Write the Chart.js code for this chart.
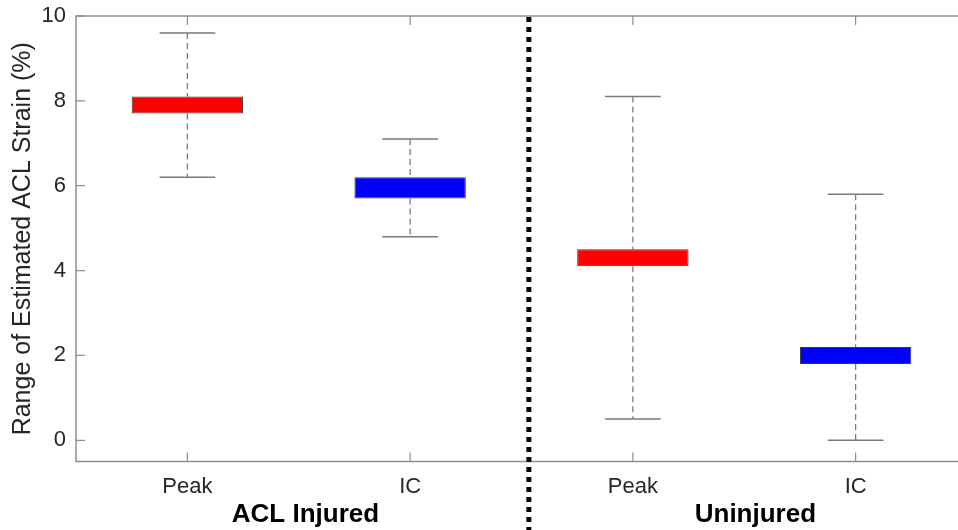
<!DOCTYPE html>
<html>
<head>
<meta charset="utf-8">
<script src="https://cdn.jsdelivr.net/npm/chart.js@4.4.1/dist/chart.umd.min.js"></script>
<style>
  html, body { margin: 0; padding: 0; background: #fff; overflow: hidden; }
  #wrap { width: 980px; height: 530px; }
</style>
</head>
<body>
<div id="wrap"><canvas id="c" width="980" height="530"></canvas></div>
<script>
// Box-plot summary per condition: whisker ends and box (quartile) edges, in % strain
const categories = ['Peak', 'IC', 'Peak', 'IC'];
const boxColors  = ['#ff0000', '#0000ff', '#ff0000', '#0000ff'];
const whiskerMin = [6.2, 4.8, 0.5, 0.0];
const boxLow     = [7.7, 5.7, 4.1, 1.8];
const boxHigh    = [8.1, 6.2, 4.5, 2.2];
const whiskerMax = [9.6, 7.1, 8.1, 5.8];

const groupNames = ['ACL Injured', 'Uninjured'];
const groupAt    = [1.53, 3.55];
const dividerAt  = 2.533;
const yTicks     = [0, 2, 4, 6, 8, 10];

const positions = categories.map((_, i) => i + 1);
const CAP = 0.125;

// Dashed whisker stems: max -> top of box, bottom of box -> min
const stems = [];
positions.forEach((p, i) => {
  stems.push({x: p, y: whiskerMax[i]}, {x: p, y: boxHigh[i]}, {x: p, y: null});
  stems.push({x: p, y: boxLow[i]}, {x: p, y: whiskerMin[i]}, {x: p, y: null});
});
// Solid caps at the whisker ends
const caps = [];
positions.forEach((p, i) => {
  caps.push({x: p - CAP, y: whiskerMax[i]}, {x: p + CAP, y: whiskerMax[i]}, {x: p + CAP, y: null});
  caps.push({x: p - CAP, y: whiskerMin[i]}, {x: p + CAP, y: whiskerMin[i]}, {x: p + CAP, y: null});
});

const FONT = '"Liberation Sans", Arial, sans-serif';
const AXIS_GRAY = '#8e8e8e';
const TICK_LEN = 9;

// keep the plot frame where the layout padding puts it
function noLabelPadding(s) {
  s.paddingTop = 0; s.paddingBottom = 0; s.paddingLeft = 0; s.paddingRight = 0;
}

const framePlugin = {
  id: 'frame',
  beforeDatasetsDraw(chart) {
    const {ctx, chartArea: a, scales: {x, y}} = chart;
    ctx.save();
    ctx.strokeStyle = AXIS_GRAY;
    ctx.lineWidth = 1.5;
    ctx.strokeRect(a.left, a.top, a.right - a.left, a.bottom - a.top);
    ctx.beginPath();
    y.ticks.forEach(t => {
      const py = y.getPixelForValue(t.value);
      ctx.moveTo(a.left, py); ctx.lineTo(a.left + TICK_LEN, py);
      ctx.moveTo(a.right, py); ctx.lineTo(a.right - TICK_LEN, py);
    });
    x.ticks.forEach(t => {
      const px = x.getPixelForValue(t.value);
      ctx.moveTo(px, a.bottom); ctx.lineTo(px, a.bottom - TICK_LEN);
      ctx.moveTo(px, a.top); ctx.lineTo(px, a.top + TICK_LEN);
    });
    ctx.lineWidth = 1.2;
    ctx.stroke();
    ctx.restore();
  },
  afterDraw(chart) {
    const {ctx, chartArea: a, scales: {x}} = chart;
    ctx.save();
    // dotted divider between the two groups
    const dx = x.getPixelForValue(dividerAt);
    ctx.strokeStyle = '#000';
    ctx.lineWidth = 5;
    ctx.setLineDash([5, 5]);
    ctx.beginPath();
    ctx.moveTo(dx, a.top + 1);
    ctx.lineTo(dx, chart.height);
    ctx.stroke();
    ctx.setLineDash([]);
    // group names under the tick labels
    ctx.fillStyle = '#000';
    ctx.font = 'bold 26px ' + FONT;
    ctx.textAlign = 'center';
    ctx.textBaseline = 'middle';
    groupNames.forEach((g, i) => {
      ctx.fillText(g, x.getPixelForValue(groupAt[i]), 515);
    });
    ctx.restore();
  }
};

new Chart(document.getElementById('c'), {
  type: 'bar',
  data: {
    datasets: [
      {
        type: 'bar',
        order: 0,
        data: positions.map((p, i) => ({x: p, y: [boxLow[i], boxHigh[i]]})),
        backgroundColor: boxColors,
        borderColor: '#3a3a3a',
        borderWidth: 1,
        borderSkipped: false,
        categoryPercentage: 1,
        barPercentage: 0.5
      },
      {
        type: 'line',
        order: 1,
        data: stems,
        borderColor: '#7a7a7a',
        borderWidth: 1.3,
        borderDash: [6, 4],
        pointRadius: 0,
        spanGaps: false
      },
      {
        type: 'line',
        order: 2,
        data: caps,
        borderColor: '#7a7a7a',
        borderWidth: 1.5,
        pointRadius: 0,
        spanGaps: false
      }
    ]
  },
  options: {
    responsive: false,
    animation: false,
    devicePixelRatio: 1,
    layout: { autoPadding: false, padding: { top: 16, right: 13, bottom: 0, left: 0 } },
    plugins: { legend: { display: false }, tooltip: { enabled: false } },
    scales: {
      x: {
        type: 'linear',
        min: 0.5,
        max: 4.5,
        offset: false,
        grid: { display: false, drawTicks: false },
        border: { display: false },
        afterBuildTicks: s => { s.ticks = positions.map(v => ({value: v})); },
        afterFit: s => { s.height = 68.5; noLabelPadding(s); },
        ticks: {
          autoSkip: false,
          maxRotation: 0,
          padding: 12,
          color: '#262626',
          font: { family: FONT, size: 22 },
          callback: (v, i) => categories[i]
        }
      },
      y: {
        type: 'linear',
        min: -0.5,
        max: 10,
        grid: { display: false, drawTicks: false },
        border: { display: false },
        afterBuildTicks: s => { s.ticks = yTicks.map(v => ({value: v})); },
        afterFit: s => { s.width = 76; noLabelPadding(s); },
        ticks: {
          padding: 10,
          color: '#262626',
          font: { family: FONT, size: 22 }
        },
        title: {
          display: true,
          text: 'Range of Estimated ACL Strain (%)',
          color: '#262626',
          font: { family: FONT, size: 25 },
          padding: { top: 8, bottom: 0 }
        }
      }
    }
  },
  plugins: [framePlugin]
});
</script>
</body>
</html>
